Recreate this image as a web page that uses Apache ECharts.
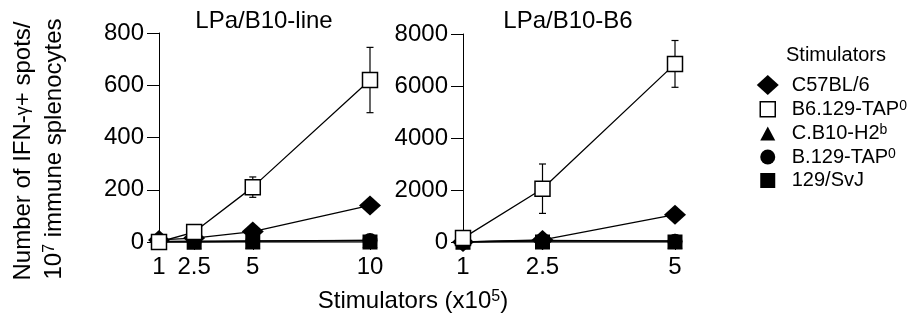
<!DOCTYPE html>
<html>
<head>
<meta charset="utf-8">
<script src="https://cdn.jsdelivr.net/npm/echarts@6/dist/echarts.min.js"></script>
<style>
html,body{margin:0;padding:0;background:#fff}
#main{width:913px;height:323px}
</style>
</head>
<body>
<div id="main"></div>
<script>
var strains=['C57BL/6','B6.129-TAP0','C.B10-H2b','B.129-TAP0','129/SvJ'];
var strainBase=['C57BL/6','B6.129-TAP','C.B10-H2','B.129-TAP','129/SvJ'];
var strainSup=['','0','b','0',''];

var stimLeft=[1,2.5,5,10];
var stimRight=[1,2.5,5];

// LPa/B10-line
var leftC57=[8,15,40,140];
var leftB6Tap=[0,38,210,620];
var leftCB10=[0,0,3,6];
var leftBTap=[2,3,4,6];
var leftSvJ=[0,0,0,0];
var leftErr=[0,0,39,125];

// LPa/B10-B6
var rightC57=[0,80,1050];
var rightB6Tap=[150,2050,6850];
var rightCB10=[0,40,40];
var rightBTap=[0,60,30];
var rightSvJ=[0,0,0];
var rightErr=[0,950,900];

var FONT='"Liberation Sans", Arial, sans-serif';
var symbols=['diamond','rect','triangle','circle','rect'];
var symSizes=[[22,20],15,15,15,15];
var fills=['#000','#fff','#000','#000','#000'];
var legendIcons=[
  'path://M0,0M30,22M11,1L22,11L11,21L0,11Z',
  'path://M0,0M30,22M3.5,3.5L18.5,3.5L18.5,18.5L3.5,18.5Z',
  'path://M0,0M30,22M11,4L18.5,18L3.5,18Z',
  'path://M0,0M30,22M3.5,11A7.5,7.5,0,1,1,18.5,11A7.5,7.5,0,1,1,3.5,11Z',
  'path://M0,0M30,22M3.5,3.5L18.5,3.5L18.5,18.5L3.5,18.5Z'
];

function pairs(xs,ys){
  return xs.map(function(x,i){return [x,ys[i]];});
}

function panelSeries(g,xs,sets,mean,err){
  var out=[];
  // error bars first, so the markers sit on top
  out.push({
    type:'custom',
    xAxisIndex:g,yAxisIndex:g,
    silent:true,z:2,
    encode:{x:0,y:[1,2]},
    data:xs.map(function(x,i){return [x,mean[i]-err[i],mean[i]+err[i]];})
      .filter(function(d){return d[2]>d[1];}),
    renderItem:function(params,api){
      var lo=api.coord([api.value(0),api.value(1)]);
      var hi=api.coord([api.value(0),api.value(2)]);
      var w=3.5;
      var st={stroke:'#000',lineWidth:1.2};
      return {type:'group',children:[
        {type:'line',shape:{x1:lo[0],y1:lo[1],x2:hi[0],y2:hi[1]},style:st},
        {type:'line',shape:{x1:lo[0]-w,y1:lo[1],x2:lo[0]+w,y2:lo[1]},style:st},
        {type:'line',shape:{x1:hi[0]-w,y1:hi[1],x2:hi[0]+w,y2:hi[1]},style:st}
      ]};
    }
  });
  sets.forEach(function(ys,i){
    out.push({
      name:strains[i],
      type:'line',
      xAxisIndex:g,yAxisIndex:g,
      z:i===1?5:3+(i===0?1:0),
      data:pairs(xs,ys),
      symbol:symbols[i],
      symbolSize:symSizes[i],
      showAllSymbol:true,
      itemStyle:{color:fills[i],borderColor:'#000',borderWidth:i===1?1.5:0,opacity:1},
      lineStyle:{color:'#000',width:1.3},
      emphasis:{disabled:true},
      animation:false
    });
  });
  return out;
}

function xAxisFor(g,xs,max){
  return {
    gridIndex:g,type:'value',min:1,max:max,
    axisLine:{show:false},
    splitLine:{show:false},
    axisTick:{show:true,length:8,lineStyle:{color:'#000',width:1},customValues:xs},
    axisLabel:{fontSize:24,color:'#000',fontFamily:FONT,margin:13,customValues:xs}
  };
}
function yAxisFor(g,max,step){
  return {
    gridIndex:g,type:'value',min:0,max:max,interval:step,
    axisLine:{show:true,lineStyle:{color:'#000',width:1}},
    splitLine:{show:false},
    axisTick:{show:true,length:12,lineStyle:{color:'#000',width:1}},
    axisLabel:{fontSize:24,color:'#000',fontFamily:FONT,margin:15,
      formatter:function(v){return String(v);}}
  };
}

var chart=echarts.init(document.getElementById('main'));
var supRich={
  a:{fontSize:24,fontFamily:FONT,color:'#000'},
  s:{fontSize:16,fontFamily:FONT,color:'#000',verticalAlign:'top'},
  g:{fontSize:18,fontFamily:FONT,color:'#000'}
};
var legRich={
  a:{fontSize:20,fontFamily:FONT,color:'#000'},
  s:{fontSize:14,fontFamily:FONT,color:'#000',verticalAlign:'top'}
};

var option={
  backgroundColor:'#fff',
  animation:false,
  grid:[
    {left:159,top:33,width:211,height:209},
    {left:463,top:34,width:212,height:208}
  ],
  xAxis:[xAxisFor(0,stimLeft,10),xAxisFor(1,stimRight,5)],
  yAxis:[yAxisFor(0,800,200),yAxisFor(1,8000,2000)],
  legend:{
    orient:'vertical',left:751,top:69,
    itemWidth:30,itemHeight:22,itemGap:1.5,
    selectedMode:false,
    textStyle:{fontSize:20,color:'#000',fontFamily:FONT,rich:legRich},
    formatter:function(name){
      var i=strains.indexOf(name);
      return '{a|'+strainBase[i]+'}'+(strainSup[i]?'{s|'+strainSup[i]+'}':'');
    },
    data:strains.map(function(n,i){
      return {name:n,icon:legendIcons[i],
        itemStyle:{color:fills[i],borderColor:'#000',borderWidth:i===1?1.5:0}};
    })
  },
  graphic:[
    {type:'text',x:264,y:21,style:{text:'LPa/B10-line',fontSize:24,fontFamily:FONT,fill:'#000',align:'center',verticalAlign:'middle'}},
    {type:'text',x:568,y:21,style:{text:'LPa/B10-B6',fontSize:24,fontFamily:FONT,fill:'#000',align:'center',verticalAlign:'middle'}},
    {type:'text',x:786,y:55,style:{text:'Stimulators',fontSize:20,fontFamily:FONT,fill:'#000',align:'left',verticalAlign:'middle'}},
    {type:'text',x:413,y:301,style:{text:'{a|Stimulators (x10}{s|5}{a|)}',rich:supRich,align:'center',verticalAlign:'middle'}},
    {type:'text',x:23,y:151,rotation:Math.PI/2,style:{text:'{a|Number of IFN-}{g|γ}{a|+ spots/}',rich:supRich,align:'center',verticalAlign:'middle'}},
    {type:'text',x:54,y:149,rotation:Math.PI/2,style:{text:'{a|10}{s|7}{a| immune splenocytes}',rich:supRich,align:'center',verticalAlign:'middle'}}
  ],
  series:[].concat(
    panelSeries(0,stimLeft,[leftC57,leftB6Tap,leftCB10,leftBTap,leftSvJ],leftB6Tap,leftErr),
    panelSeries(1,stimRight,[rightC57,rightB6Tap,rightCB10,rightBTap,rightSvJ],rightB6Tap,rightErr)
  )
};
chart.setOption(option);
</script>
</body>
</html>
